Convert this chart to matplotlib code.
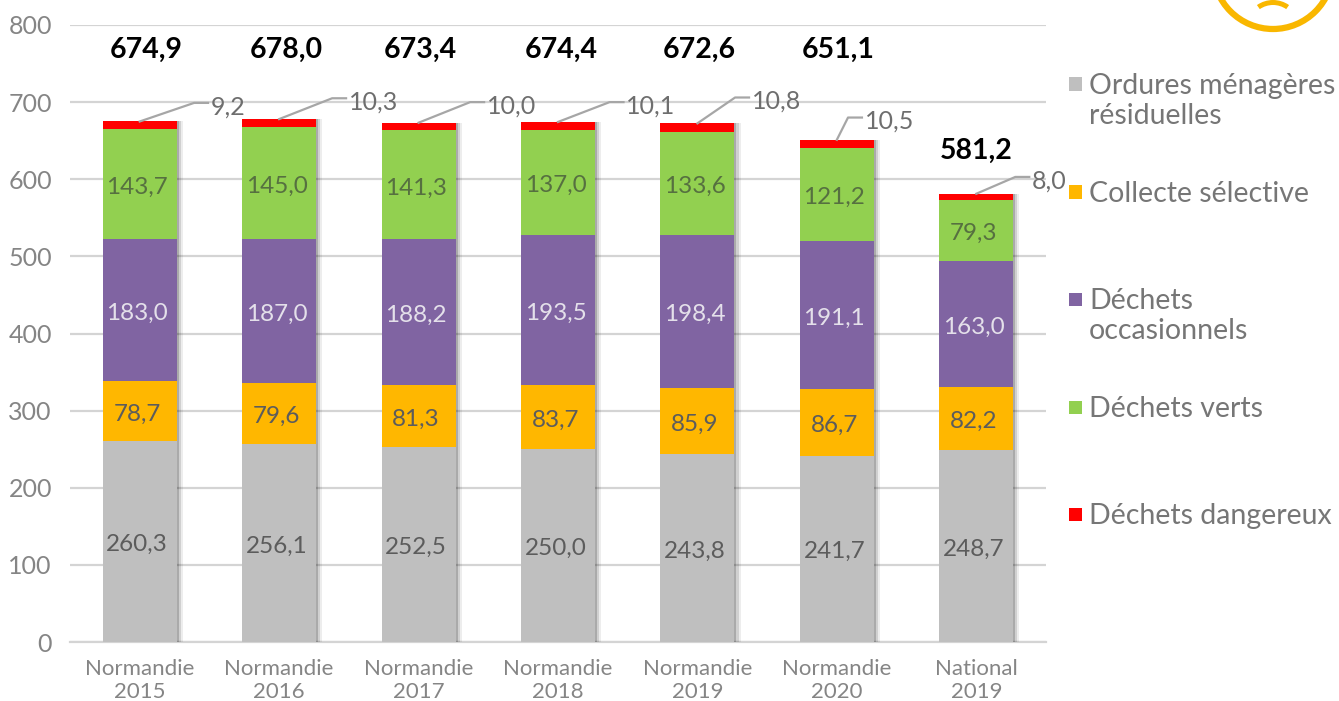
import numpy as np
import matplotlib
matplotlib.use('Agg')
import matplotlib.pyplot as plt
import matplotlib.patheffects as pe
from matplotlib.patches import Circle, Rectangle, Wedge
from matplotlib.transforms import ScaledTranslation

plt.rcParams['font.family'] = ['Lato', 'DejaVu Sans']

categories = ['Normandie\n2015', 'Normandie\n2016', 'Normandie\n2017', 'Normandie\n2018',
              'Normandie\n2019', 'Normandie\n2020', 'National\n2019']
ordures = [260.3, 256.1, 252.5, 250.0, 243.8, 241.7, 248.7]
collecte = [78.7, 79.6, 81.3, 83.7, 85.9, 86.7, 82.2]
occasionnels = [183.0, 187.0, 188.2, 193.5, 198.4, 191.1, 163.0]
verts = [143.7, 145.0, 141.3, 137.0, 133.6, 121.2, 79.3]
dangereux = [9.2, 10.3, 10.0, 10.1, 10.8, 10.5, 8.0]
totals = [674.9, 678.0, 673.4, 674.4, 672.6, 651.1, 581.2]

series = [ordures, collecte, occasionnels, verts]
colors = ['#bfbfbf', '#ffb700', '#8064a2', '#92d050']
label_colors = ['#5c5c5c', '#5c5c5c', '#e4e0ea', '#567040']
red = '#ff0000'

# leader lines of the small top segment, in category / value units
elbow_dx = [0.39, 0.38, 0.37, 0.37, 0.27, 0.08, 0.28]
elbow_y = [699, 705, 700, 700, 706, 680, 603]
total_y = [768, 768, 768, 768, 768, 768, 637]
total_dx = [0.045, 0.055, 0.01, 0.02, 0.015, 0.01, 0.0]

legend_labels = ['Ordures ménagères\nrésiduelles', 'Collecte sélective', 'Déchets\noccasionnels',
                 'Déchets verts', 'Déchets dangereux']
legend_colors = ['#bfbfbf', '#ffb700', '#8064a2', '#92d050', red]
legend_px = [84, 192, 299, 407, 514]

W, H = 1339, 701
fig = plt.figure(figsize=(W / 100, H / 100), dpi=100)
ax = fig.add_axes([70 / W, (H - 642) / H, (1046 - 70) / W, 617 / H])

x = np.arange(len(categories))
shadow = [pe.SimplePatchShadow(offset=(d, 0), shadow_rgbFace='k', alpha=a)
          for d, a in ((4.5, 0.07), (3, 0.12), (1.5, 0.18))] + [pe.Normal()]
# data labels sit slightly left of and below the segment centres
nudge = ax.transData + ScaledTranslation(-2.5 / 100, -3 / 100, fig.dpi_scale_trans)

bottom = np.zeros(len(categories))
for vals, c, lc in zip(series, colors, label_colors):
    bars = ax.bar(x, vals, 0.53, bottom=bottom, color=c, zorder=3)
    for b in bars:
        b.set_path_effects(shadow)
    for xi, b0, v in zip(x, bottom, vals):
        ax.text(xi, b0 + v / 2, f'{v:.1f}'.replace('.', ','), ha='center', va='center',
                fontsize=17.5, color=lc, zorder=5, transform=nudge)
    bottom = bottom + np.array(vals)

bars = ax.bar(x, dangereux, 0.53, bottom=bottom, color=red, zorder=3)
for b in bars:
    b.set_path_effects(shadow)
tops = bottom + np.array(dangereux)

for xi, top, dx, ey, v in zip(x, tops, elbow_dx, elbow_y, dangereux):
    ax.plot([xi, xi + dx, xi + dx + 0.1], [top, ey, ey], color='#a6a6a6', lw=1.6, zorder=4, clip_on=False)
    ax.text(xi + dx + 0.12, ey - 5, f'{v:.1f}'.replace('.', ','), ha='left', va='center',
            fontsize=18, color='#6e6e6e', zorder=5, clip_on=False)

for xi, dx, y, t in zip(x, total_dx, total_y, totals):
    ax.text(xi + dx, y, f'{t:.1f}'.replace('.', ','), ha='center', va='center',
            fontsize=20.5, fontweight='bold', color='black', zorder=5)

ax.set_xlim(-0.5, 6.5)
ax.set_ylim(0, 800)
ax.set_yticks(range(0, 801, 100))
ax.set_xticks(x, categories)
ax.tick_params(axis='both', length=0, labelcolor='#858585')
ax.tick_params(axis='y', labelsize=18, pad=13)
ax.tick_params(axis='x', labelsize=16, pad=12)
for lab in ax.get_xticklabels():
    lab.set_linespacing(1.18)
ax.grid(axis='y', color='#d4d4d4', lw=1.6, zorder=0)
ax.set_axisbelow(True)
for s in ax.spines.values():
    s.set_visible(False)
ax.plot([0, 1], [0, 0], transform=ax.transAxes, color='#d4d4d4', lw=1.6, zorder=1, clip_on=False)

# legend, spaced unevenly in the picture so placed by hand
for lab, c, py in zip(legend_labels, legend_colors, legend_px):
    fig.add_artist(Rectangle((1069 / W, (H - py - 6.5) / H), 13 / W, 13 / H, transform=fig.transFigure,
                             facecolor=c, edgecolor='none'))
    fig.text(1089 / W, (H - py + 11) / H, lab, ha='left', va='top', fontsize=20.5,
             color='#767676', linespacing=1.2)

# logo ring cut by the top of the picture
logo = fig.add_axes([0, 0, 1, 1], facecolor='none')
logo.set_xlim(0, W)
logo.set_ylim(H, 0)
logo.axis('off')
logo.add_patch(Circle((1273, -31), 60, facecolor='none', edgecolor='#f9b700', lw=4.5))
logo.add_patch(Wedge((1273, 28), 28, 235, 305, width=5, facecolor='#f9b700', edgecolor='none'))

fig.savefig('out.png', dpi=100)
